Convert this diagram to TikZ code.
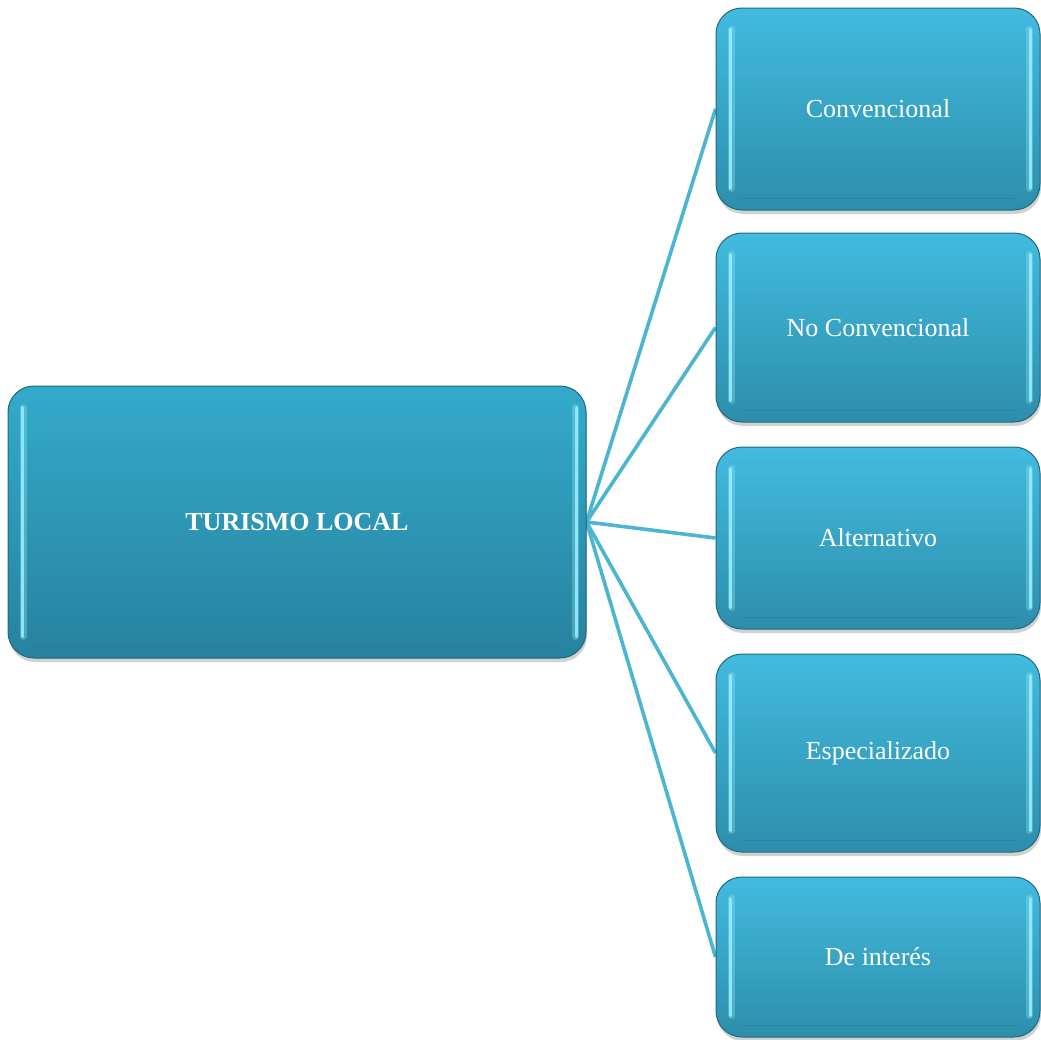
\documentclass[tikz,border=0pt]{standalone}
\usepackage{fontspec}
\setmainfont{Liberation Serif}
\usetikzlibrary{shadows}
\pgfdeclarelayer{bg}
\pgfsetlayers{bg,main}
\definecolor{boxtop}{HTML}{42BBDF}
\definecolor{boxbot}{HTML}{2D8EAB}
\definecolor{maintop}{HTML}{34AACB}
\definecolor{mainbot}{HTML}{27829E}
\definecolor{boxedge}{HTML}{1E6A80}
\definecolor{linkcol}{HTML}{4CB5D1}
\definecolor{hlcol}{HTML}{9AF0FF}
\tikzset{
  basebox/.style={rounded corners=26pt, draw=boxedge, line width=1pt,
    text=white, font=\fontsize{26}{30}\selectfont,
    drop shadow={shadow xshift=1pt, shadow yshift=-4pt, opacity=0.18, fill=black}},
  subbox/.style={basebox, top color=boxtop, bottom color=boxbot,
    minimum width=324pt},
  mainbox/.style={basebox, top color=maintop, bottom color=mainbot,
    font=\fontsize{26}{30}\selectfont\bfseries},
  link/.style={draw=linkcol, line width=3.6pt},
  hlwide/.style={draw=hlcol, line width=7pt, opacity=0.3, line cap=round},
  hlthin/.style={draw=hlcol, line width=3pt, opacity=0.85, line cap=round},
  band/.style={draw=boxedge, line width=1.2pt, opacity=0.3}
}
\begin{document}
\begin{tikzpicture}[x=1pt,y=-1pt]
\useasboundingbox (0,0) rectangle (1041,1039);
\node[mainbox, minimum width=578pt, minimum height=272pt] (main) at (297,522) {TURISMO LOCAL};
\node[subbox, minimum height=202pt] (b1) at (878,109) {Convencional};
\node[subbox, minimum height=189pt] (b2) at (878,327.5) {No Convencional};
\node[subbox, minimum height=182pt] (b3) at (878,538) {Alternativo};
\node[subbox, minimum height=198pt] (b4) at (878,753) {Especializado};
\node[subbox, minimum height=160pt] (b5) at (878,957) {De interés};
\foreach \n in {main,b1,b2,b3,b4,b5}{
  \draw[band] ([shift={(26pt,12pt)}]\n.south west) -- ([shift={(-26pt,12pt)}]\n.south east);
  \draw[hlwide] ([shift={(16pt,-22pt)}]\n.north west) -- ([shift={(16pt,22pt)}]\n.south west);
  \draw[hlthin] ([shift={(15pt,-22pt)}]\n.north west) -- ([shift={(15pt,22pt)}]\n.south west);
  \draw[hlwide] ([shift={(-11pt,-22pt)}]\n.north east) -- ([shift={(-11pt,22pt)}]\n.south east);
  \draw[hlthin] ([shift={(-10pt,-22pt)}]\n.north east) -- ([shift={(-10pt,22pt)}]\n.south east);
}
\begin{pgfonlayer}{bg}
\foreach \n in {b1,b2,b3,b4,b5}{
  \draw[link] (main.east) -- (\n.west);
}
\end{pgfonlayer}
\end{tikzpicture}
\end{document}
